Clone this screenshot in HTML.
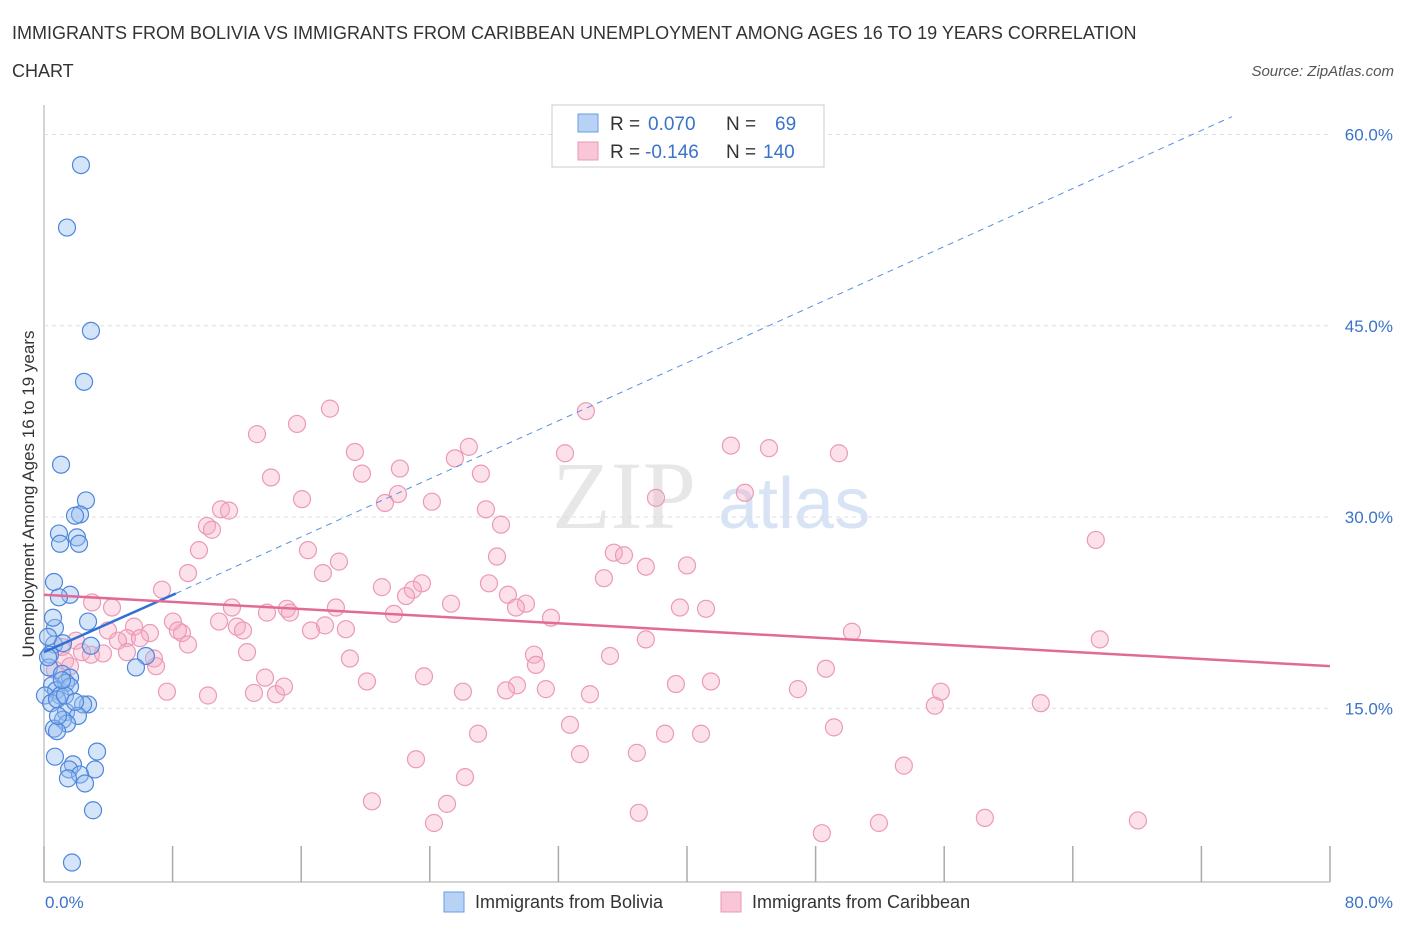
<!DOCTYPE html>
<html><head><meta charset="utf-8"><style>
body{margin:0;background:#fff;font-family:"Liberation Sans",sans-serif;}
</style></head><body>
<svg id="chart" width="1406" height="930" xmlns="http://www.w3.org/2000/svg" font-family="Liberation Sans, sans-serif">
<text x="12" y="39" font-size="18" fill="#333">IMMIGRANTS FROM BOLIVIA VS IMMIGRANTS FROM CARIBBEAN UNEMPLOYMENT AMONG AGES 16 TO 19 YEARS CORRELATION</text>
<text x="12" y="77" font-size="18" fill="#333">CHART</text>
<text x="1394" y="76" font-size="15" fill="#555" text-anchor="end" font-style="italic">Source: ZipAtlas.com</text>
<text x="552" y="528" font-size="96" fill="#ddd" font-family="Liberation Serif, serif" opacity="0.7">ZIP</text>
<text x="718" y="528" font-size="72" fill="#c8daf2" opacity="0.7">atlas</text>
<g id="grid"></g>
<g id="pts"></g>
<g id="lines"></g>
<text transform="translate(34,494) rotate(-90)" font-size="17" fill="#333" text-anchor="middle">Unemployment Among Ages 16 to 19 years</text>
<text x="45" y="908" font-size="17" fill="#3a73c9">0.0%</text>
<text x="1393" y="908" font-size="17" fill="#3a73c9" text-anchor="end">80.0%</text>
<g>
<rect x="552" y="105" width="272" height="62" fill="#fff" stroke="#ccc"/>
<rect x="578" y="114" width="20" height="18" fill="#b8d2f5" stroke="#6a9de0"/>
<rect x="578" y="142" width="20" height="18" fill="#f8c6d6" stroke="#e898b4"/>
<text x="610" y="130" font-size="19" fill="#333">R = </text><text x="648" y="130" font-size="19" fill="#3a73c9">0.070</text>
<text x="726" y="130" font-size="19" fill="#333">N = </text><text x="775" y="130" font-size="19" fill="#3a73c9">69</text>
<text x="610" y="158" font-size="19" fill="#333">R = </text><text x="645" y="158" font-size="19" fill="#3a73c9">-0.146</text>
<text x="726" y="158" font-size="19" fill="#333">N = </text><text x="763" y="158" font-size="19" fill="#3a73c9">140</text>
</g>
<g>
<rect x="444" y="892" width="20" height="20" fill="#b8d2f5" stroke="#6a9de0"/>
<text x="475" y="908" font-size="18" fill="#333">Immigrants from Bolivia</text>
<rect x="721" y="892" width="20" height="20" fill="#f8c6d6" stroke="#e898b4"/>
<text x="752" y="908" font-size="18" fill="#333">Immigrants from Caribbean</text>
</g>
</svg>
<script>
const yTicks=[15,30,45,60];
const yTickLabels=["15.0%","30.0%","45.0%","60.0%"];
const xTicks=[0,8,16,24,32,40,48,56,64,72,80];
const blueX=[2.30,1.43,2.92,2.49,1.06,2.61,2.24,1.93,0.93,2.05,1.0,2.18,0.62,1.62,0.93,2.74,0.68,0.62,0.37,1.18,2.92,6.34,5.72,0.31,1.12,1.62,0.50,1.37,0.75,1.62,1.0,0.06,0.44,0.81,2.74,2.43,1.37,2.11,1.18,1.43,0.62,0.81,3.30,0.68,1.80,1.56,3.17,2.24,1.49,2.55,3.05,1.74,0.25,0.25,0.56,1.31,1.93,0.87,1.12];
const blueY=[57.6,52.7,44.6,40.6,34.1,31.3,30.2,30.1,28.7,28.4,27.9,27.9,24.9,23.9,23.7,21.8,21.3,20.0,19.2,20.1,19.9,19.1,18.2,18.2,17.7,17.4,16.8,17.0,16.4,16.7,16.0,16.0,15.4,15.7,15.3,15.3,14.7,14.4,14.1,13.8,13.4,13.2,11.6,11.2,10.6,10.2,10.2,9.8,9.5,9.1,7.0,2.9,19.0,20.6,22.1,16.0,15.5,14.4,17.2];
const redX=[17.79,13.25,15.74,33.71,19.34,26.43,25.56,42.73,45.10,49.45,32.41,14.12,19.78,22.14,27.18,43.60,38.07,22.02,24.13,21.21,11.01,11.51,16.05,27.49,28.43,10.14,10.45,65.43,9.64,16.42,28.18,35.45,36.08,37.44,40.0,18.35,17.35,8.96,34.83,21.02,23.51,22.95,27.68,22.52,7.34,2.99,4.23,11.69,15.11,18.16,25.32,28.86,29.98,29.36,39.56,41.18,13.87,15.30,21.77,31.54,10.89,17.48,12.00,5.60,3.98,6.59,8.58,16.61,18.78,8.02,8.33,12.38,50.26,65.68,37.44,1.99,5.16,5.97,4.60,8.96,1.12,2.36,2.92,3.67,5.16,6.84,12.63,19.03,30.48,35.21,48.64,6.97,23.64,30.60,13.75,20.09,29.42,41.49,39.31,7.65,10.20,13.06,14.43,14.93,26.06,28.74,31.22,33.96,46.90,55.79,55.42,62.01,32.72,49.14,27.0,38.63,40.87,33.34,36.88,23.14,53.49,26.19,20.40,25.07,37.0,68.05,24.26,58.53,51.94,48.39,1.31,0.68,1.62];
const redY=[38.5,36.5,37.3,38.3,35.1,35.5,34.6,35.6,35.4,35.0,35.0,33.1,33.4,33.8,33.4,31.9,31.5,31.8,31.2,31.1,30.6,30.5,31.4,30.6,29.4,29.3,29.0,28.2,27.4,27.4,26.9,27.2,27.0,26.1,26.2,26.5,25.6,25.6,25.2,24.5,24.8,24.3,24.8,23.8,24.3,23.3,22.9,22.9,22.8,22.9,23.2,23.9,23.2,22.9,22.9,22.8,22.5,22.5,22.4,22.1,21.8,21.5,21.4,21.4,21.1,20.9,20.9,21.1,21.2,21.8,21.1,21.1,21.0,20.4,20.4,20.3,20.5,20.5,20.3,20.0,19.8,19.4,19.2,19.3,19.4,18.9,19.4,18.9,19.2,19.1,18.1,18.3,17.5,18.4,17.4,17.1,16.8,17.1,16.9,16.3,16.0,16.2,16.1,16.7,16.3,16.4,16.5,16.1,16.5,16.3,15.2,15.4,13.7,13.5,13.0,13.0,13.0,11.4,11.5,11.0,10.5,9.6,7.7,7.5,6.8,6.2,6.0,6.4,6.0,5.2,18.7,18.0,18.3];
const blueTrend=[[0,19.4],[8.2,24.0],[73.9,61.4]];
const redTrend=[[0,23.9],[80,18.3]];
const NS="http://www.w3.org/2000/svg";
const X0=44,X1=1330,Y0=899.5,YPX=12.75;
const sx=v=>X0+(X1-X0)*v/80;
const sy=v=>Y0-v*YPX;
function mk(tag,attrs,parent){const e=document.createElementNS(NS,tag);for(const k in attrs)e.setAttribute(k,attrs[k]);parent.appendChild(e);return e;}
const grid=document.getElementById('grid');
const ax=mk('line',{x1:X0,y1:105,x2:X0,y2:882,stroke:'#aaa'},grid);


const bx=mk('line',{x1:X0,y1:882,x2:X1,y2:882,stroke:'#aaa'},grid);


yTicks.forEach((t,i)=>{
 const g=mk('line',{x1:X0,y1:sy(t),x2:X1,y2:sy(t),stroke:'#ddd','stroke-dasharray':'4,4'},grid);
 
 
 const l=mk('text',{x:1393,y:sy(t)+6,'font-size':17,fill:'#3a73c9','text-anchor':'end'},grid);
 l.textContent=yTickLabels[i];
 
 
});
xTicks.forEach(t=>{
 const k=mk('line',{x1:sx(t),y1:846,x2:sx(t),y2:882,stroke:'#aaa','stroke-width':1.5},grid);
 
 
});
const pts=document.getElementById('pts');
redX.forEach((v,i)=>{
 const c=mk('circle',{cx:sx(v),cy:sy(redY[i]),r:8.5,fill:'rgba(245,170,195,0.35)',stroke:'#eb9ab6','stroke-width':1.2},pts);
 
 
});
blueX.forEach((v,i)=>{
 const c=mk('circle',{cx:sx(v),cy:sy(blueY[i]),r:8.5,fill:'rgba(150,190,240,0.4)',stroke:'#4f86dc','stroke-width':1.2},pts);
 
 
});
const lines=document.getElementById('lines');
const b1=mk('line',{x1:sx(blueTrend[0][0]),y1:sy(blueTrend[0][1]),x2:sx(blueTrend[1][0]),y2:sy(blueTrend[1][1]),stroke:'#2f6fd6','stroke-width':2.5},lines);


const b2=mk('line',{x1:sx(blueTrend[1][0]),y1:sy(blueTrend[1][1]),x2:sx(blueTrend[2][0]),y2:sy(blueTrend[2][1]),stroke:'#5a8fe0','stroke-width':1,'stroke-dasharray':'6,5'},lines);


const r1=mk('line',{x1:sx(redTrend[0][0]),y1:sy(redTrend[0][1]),x2:sx(redTrend[1][0]),y2:sy(redTrend[1][1]),stroke:'#e26a97','stroke-width':2.5},lines);


</script>
</body></html>
